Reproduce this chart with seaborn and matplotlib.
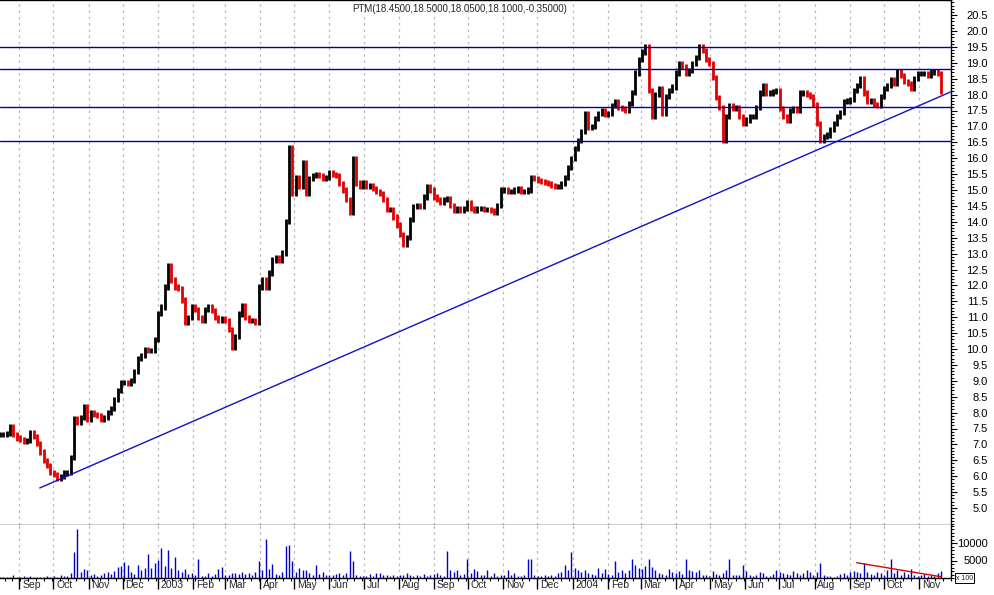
""" PTM daily price chart with support lines, trend line and volume pane.

    Values read off the reference picture: one close every ~3 calendar days
    (Aug 2002 - Nov 2004), volume in hundreds.
"""

import numpy as np
import pandas as pd
import matplotlib
matplotlib.use("Agg")
import matplotlib.pyplot as plt
import matplotlib.dates as mdates
import matplotlib.ticker as mticker
import matplotlib.transforms as mtransforms
import seaborn as sns

# DATA
start_date = "2002-08-15"
close = [
    7.30, 7.30, 7.35, 7.55, 7.30, 7.20, 7.14, 7.10, 7.12, 7.36,
    7.25, 7.04, 6.76, 6.50, 6.35, 6.13, 6.04, 5.94, 5.98, 6.10,
    6.13, 6.60, 7.80, 7.70, 7.86, 8.18, 7.77, 7.99, 7.95, 7.90,
    7.77, 7.86, 8.00, 8.14, 8.40, 8.70, 8.96, 8.96, 8.93, 9.00,
    9.30, 9.70, 9.80, 9.97, 9.95, 9.95, 10.30, 11.13, 11.32, 11.95,
    12.64, 12.17, 11.95, 11.90, 11.54, 10.82, 11.00, 11.32, 11.23, 11.00,
    10.90, 11.23, 11.32, 11.20, 11.00, 10.90, 10.97, 10.90, 10.60, 10.06,
    10.38, 11.10, 11.38, 11.00, 10.90, 10.90, 10.85, 11.95, 12.17, 11.95,
    12.39, 12.80, 12.89, 12.80, 13.02, 14.00, 16.35, 14.90, 15.40, 15.10,
    15.85, 14.90, 15.35, 15.47, 15.50, 15.45, 15.35, 15.40, 15.55, 15.50,
    15.45, 15.20, 15.00, 14.70, 14.30, 16.00, 15.22, 15.10, 15.22, 15.10,
    15.15, 15.06, 14.94, 14.90, 14.69, 14.40, 14.40, 14.15, 13.90, 13.60,
    13.30, 13.52, 14.06, 14.47, 14.50, 14.47, 14.78, 15.10, 15.00, 14.78,
    14.69, 14.60, 14.69, 14.72, 14.50, 14.37, 14.41, 14.37, 14.41, 14.60,
    14.41, 14.37, 14.41, 14.41, 14.39, 14.40, 14.35, 14.28, 14.50, 15.00,
    15.00, 14.94, 14.94, 15.00, 15.06, 14.95, 14.95, 15.00, 15.40, 15.35,
    15.30, 15.27, 15.25, 15.20, 15.15, 15.12, 15.12, 15.20, 15.40, 15.70,
    16.00, 16.30, 16.55, 16.85, 17.42, 16.98, 17.00, 17.26, 17.42, 17.51,
    17.37, 17.42, 17.67, 17.77, 17.60, 17.55, 17.50, 17.72, 18.08, 18.68,
    19.09, 19.34, 19.50, 18.14, 17.30, 18.00, 18.20, 17.42, 17.95, 18.14,
    18.24, 18.68, 18.99, 18.88, 18.68, 18.77, 18.99, 19.18, 19.50, 19.40,
    19.09, 18.99, 18.55, 17.92, 17.60, 16.57, 17.30, 17.67, 17.55, 17.60,
    17.30, 17.10, 17.20, 17.30, 17.30, 17.60, 18.05, 18.30, 18.05, 18.05,
    18.10, 18.14, 17.55, 17.30, 17.20, 17.50, 17.55, 17.50, 18.05, 18.05,
    18.00, 17.95, 17.70, 17.10, 16.57, 16.67, 16.73, 16.89, 17.10, 17.30,
    17.45, 17.77, 17.80, 17.86, 18.14, 18.30, 18.52, 18.05, 17.80, 17.80,
    17.70, 17.65, 17.95, 18.20, 18.30, 18.46, 18.36, 18.71, 18.60, 18.40,
    18.36, 18.20, 18.52, 18.65, 18.65, 18.65, 18.60, 18.71, 18.71, 18.65,
    18.10,
]
volume = [  # x100
    300, 200, 400, 300, 800, 300, 200, 500, 300, 600,
    300, 200, 400, 300, 500, 300, 600, 400, 900, 500,
    700, 1500, 7400, 14000, 1800, 2500, 2200, 900, 1200, 600,
    800, 1500, 1800, 1200, 2000, 3200, 3400, 4600, 3800, 1800,
    1200, 3800, 2200, 2800, 7000, 3000, 4400, 5200, 8600, 3400,
    7900, 2800, 6000, 2400, 1800, 2600, 1200, 1400, 900, 5500,
    600, 500, 1400, 700, 1100, 2600, 3200, 1000, 900, 1300,
    1500, 1200, 1600, 1100, 1300, 1000, 1800, 4800, 2400, 11200,
    2600, 4100, 1200, 900, 1600, 9200, 9500, 5000, 1800, 2800,
    2400, 2200, 1400, 1000, 3600, 1100, 1600, 800, 1000, 900,
    1200, 1300, 900, 1500, 7700, 5000, 900, 600, 500, 700,
    1200, 700, 1300, 1500, 900, 800, 700, 1000, 500, 900,
    1000, 1300, 800, 600, 900, 700, 1200, 500, 900, 1100,
    1300, 800, 700, 7800, 2200, 1800, 2400, 800, 1200, 5300,
    1400, 2600, 2000, 900, 800, 2200, 700, 1300, 600, 900,
    1000, 2400, 800, 1500, 700, 500, 1000, 5300, 5400, 900,
    600, 500, 800, 700, 900, 600, 1400, 1800, 3800, 2200,
    7400, 3000, 2400, 1800, 2200, 1500, 1200, 900, 2800, 1400,
    2600, 1200, 900, 4800, 1800, 2200, 1300, 2400, 5300, 3800,
    3000, 2600, 3400, 5300, 3200, 2400, 1500, 1200, 900, 2600,
    1800, 1400, 2000, 1100, 5300, 2200, 2000, 1600, 2400, 900,
    1000, 700, 2000, 1200, 900, 1400, 2400, 5500, 1000, 800,
    900, 3800, 2000, 800, 700, 900, 1800, 1500, 700, 600,
    1100, 2400, 1600, 1400, 1200, 800, 1900, 1400, 1000, 1300,
    2200, 1600, 1000, 1800, 4300, 800, 500, 600, 400, 700,
    1200, 1500, 900, 1600, 2000, 1800, 1400, 4400, 1600, 1200,
    900, 1800, 1300, 1000, 2400, 5300, 1500, 2200, 1000, 1800,
    1200, 2700, 900, 700, 800, 1200, 600, 900, 700, 1400,
    2000,
]
support_levels = [19.5, 18.8, 17.6, 16.55]
trend_dates = ["2002-09-19", "2004-12-01"]
trend_prices = [5.63, 18.12]
vol_trend_dates = ["2004-09-07", "2004-11-20"]
vol_trend_values = [4370, 370]
title = "PTM(18.4500,18.5000,18.0500,18.1000,-0.35000)"

# ORGANIZE
dates = pd.date_range(start_date, periods=len(close), freq="71h")
df = pd.DataFrame({"date": dates, "close": close, "volume": volume})
df["prev"] = df["close"].shift(1).fillna(df["close"].iloc[0])
df["lo"] = np.minimum(df["prev"], df["close"]) - 0.08
df["hi"] = np.maximum(df["prev"], df["close"]) + 0.08
df["color"] = np.where(df["close"] >= df["prev"], "black", "#e00000")

# VISUALIZE
sns.set_theme(style="white")
plt.rcParams["font.family"] = ["Liberation Sans", "DejaVu Sans"]

W, H = 994, 595
fig = plt.figure(figsize=(W / 100, H / 100), dpi=100)
ax = fig.add_axes([0, 1 - 525 / H, 951 / W, 525 / H])
axv = fig.add_axes([0, 1 - 578 / H, 951 / W, 53 / H], sharex=ax)

blue = "#0000a8"
grid_kw = dict(color="#b8b8b8", ls=(0, (2, 3)), lw=0.9)

# price bars
ax.vlines(df["date"], df["lo"], df["hi"], colors=df["color"], lw=2.0, zorder=3)
for lvl in support_levels:
    ax.axhline(lvl, color=blue, lw=1.0, zorder=4)
sns.lineplot(x=pd.to_datetime(trend_dates), y=trend_prices, ax=ax,
             color="#1010c8", lw=1.0, zorder=4)

# volume bars
axv.vlines(df["date"], 0, df["volume"], colors="#0000c8", lw=1.0, zorder=3)
sns.lineplot(x=pd.to_datetime(vol_trend_dates), y=vol_trend_values, ax=axv,
             color="#e00000", lw=1.0, zorder=4)

# axes limits
ax.set_xlim(pd.Timestamp("2002-08-15"), pd.Timestamp("2004-11-29"))
ax.set_ylim(5 - 17 / 31.8, 5 + 508 / 31.8)
axv.set_ylim(0, 53 / 35 * 10000)

for a in (ax, axv):
    a.set_xlabel("")
    a.set_ylabel("")
    a.set_facecolor("white")
    a.spines["left"].set_visible(False)
    for s in ("top", "right", "bottom"):
        a.spines[s].set_color("black")
        a.spines[s].set_linewidth(1.0)
    a.yaxis.tick_right()
    a.tick_params(axis="y", which="major", direction="out", length=4.5,
                  width=0.8, color="black", labelsize=8, pad=22,
                  labelcolor="black")
    a.tick_params(axis="y", which="minor", direction="out", length=2.5,
                  width=0.7, color="black", right=True)
    a.xaxis.set_major_locator(mdates.MonthLocator())
    a.xaxis.set_minor_locator(mdates.WeekdayLocator(byweekday=mdates.MO))
    a.grid(axis="x", which="major", **grid_kw)
    a.grid(axis="y", visible=False)
axv.spines["top"].set_visible(False)

ax.yaxis.set_major_locator(mticker.FixedLocator(np.arange(5.0, 20.51, 0.5)))
ax.yaxis.set_major_formatter(mticker.FormatStrFormatter("%.1f"))
ax.yaxis.set_minor_locator(mticker.MultipleLocator(0.1))
ax.tick_params(axis="x", which="both", bottom=False, labelbottom=False)

axv.yaxis.set_major_locator(mticker.FixedLocator([5000, 10000]))
axv.yaxis.set_major_formatter(mticker.FormatStrFormatter("%d"))
axv.yaxis.set_minor_locator(mticker.MultipleLocator(1000))


def month_fmt(x, pos=None):
    d = mdates.num2date(x)
    return str(d.year) if d.month == 1 else d.strftime("%b")


axv.xaxis.set_major_formatter(mticker.FuncFormatter(month_fmt))
axv.tick_params(axis="x", which="major", direction="out", length=8, width=1.0,
                color="black", labelsize=7.5, pad=-6.5, bottom=True)
axv.tick_params(axis="x", which="minor", direction="out", length=2.5,
                width=0.8, color="black", bottom=True)
shift = mtransforms.ScaledTranslation(2 / 72, 0, fig.dpi_scale_trans)
for lbl in axv.get_xticklabels():
    lbl.set_ha("left")
    lbl.set_transform(lbl.get_transform() + shift)
for lbl in ax.get_yticklabels() + axv.get_yticklabels():
    lbl.set_ha("right")

# "x 100" volume unit box
fig.text(956 / W, 1 - 578 / H, "x 100", fontsize=5, ha="left", va="center",
         bbox=dict(boxstyle="square,pad=0.15", fc="white", ec="black", lw=0.7))

fig.text(460 / W, 1 - 9 / H, title, fontsize=7, ha="center", va="center")

fig.savefig("out.png", dpi=100, facecolor="white")
